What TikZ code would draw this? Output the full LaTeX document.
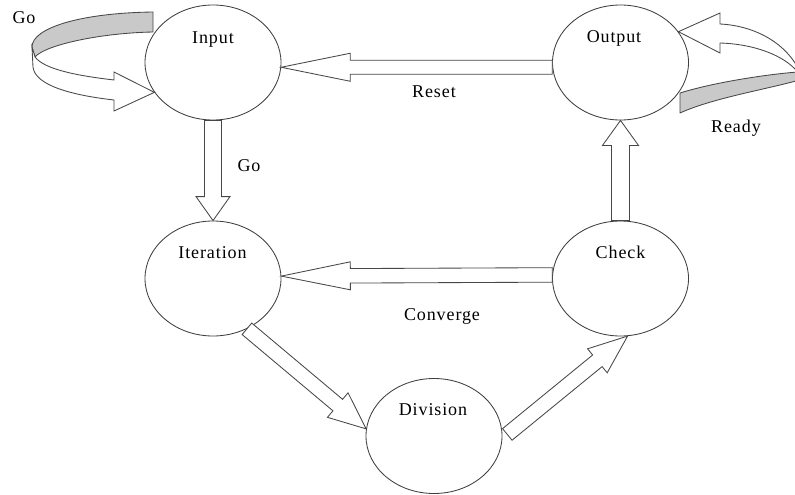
\documentclass[tikz,border=0pt]{standalone}
\usepackage{fontspec}
\setmainfont{Liberation Serif}[LetterSpace=5]
\usetikzlibrary{calc,shapes.geometric}

\tikzset{
  state/.style={ellipse, draw=black!75, line width=0.85pt, fill=white,
    minimum width=136pt, minimum height=115pt, inner sep=0pt},
  lbl/.style={anchor=base, font=\fontsize{18}{20}\selectfont, text=black, inner sep=0pt},
  hollow/.style={draw=black!72, line width=0.85pt, fill=white, line join=miter},
  ribbonback/.style={draw=black!72, line width=0.85pt, fill=black!21, line join=round},
  ribbonfront/.style={draw=black!72, line width=0.85pt, fill=white, line join=miter},
}

% hollow block arrow: from, to, half shaft width, half head width, head length
\newcommand\hollowarrow[5]{%
  \coordinate (ha-base) at ($(#2)!#5!(#1)$);
  \draw[hollow] ($(#1)!#3!90:(#2)$) -- ($(ha-base)!#3!90:(#2)$)
    -- ($(ha-base)!#4!90:(#2)$) -- (#2)
    -- ($(ha-base)!#4!-90:(#2)$) -- ($(ha-base)!#3!-90:(#2)$)
    -- ($(#1)!#3!-90:(#2)$) -- cycle;
}

\begin{document}
\begin{tikzpicture}[x=1pt,y=-1pt]
\path[use as bounding box, clip] (0,0) rectangle (795,495);
\fill[white] (0,0) rectangle (795,495);

% states
\node[state] (in)  at (213,62.5)   {};
\node[state] (out) at (620.5,62.5) {};
\node[state] (itr) at (213,278.5)  {};
\node[state] (chk) at (620.5,278.5) {};
\node[state] (div) at (434,436)    {};

% transitions
\hollowarrow{out.184}{in.-4}{7pt}{14pt}{69pt}
\hollowarrow{chk.177.5}{itr.2.5}{7.25pt}{14pt}{69pt}
\hollowarrow{in.south}{itr.north}{8.5pt}{17pt}{24pt}
\hollowarrow{chk.north}{out.south}{9pt}{18pt}{25pt}
\hollowarrow{itr.-56}{div.174}{7.5pt}{16pt}{37pt}
\coordinate (dv-start) at ($(div.3)+(5,2)$);
\hollowarrow{dv-start}{chk.-83}{7.5pt}{15.5pt}{39pt}

% self loop on Input
\draw[ribbonback] (153,12) .. controls (80,13) and (32,28) .. (32,47)
  -- (35,57) .. controls (45,45) and (100,33) .. (153,32) -- cycle;
\draw[ribbonfront] (32,47) -- (33,67) .. controls (35,85) and (70,95) .. (114,100)
  -- (114,111) -- (in.207) -- (114,72) -- (114,80)
  .. controls (80,76) and (45,70) .. (35,57) -- cycle;

% self loop on Output
\draw[ribbonback] (680,93) .. controls (715,82) and (770,74) .. (798,72)
  -- (806,78) .. controls (775,88) and (715,97) .. (680,113) -- cycle;
\draw[ribbonfront] (out.28) -- (720,13) -- (720,24)
  .. controls (756,25.7) and (787.3,44.3) .. (799.6,71.4) -- (797.8,72.2)
  .. controls (784.4,55.4) and (754.3,44.1) .. (720,43) -- (720,53) -- cycle;

% labels
\node[lbl] (t-in)    at (213,44)      {Input};
\node[lbl] (t-out)   at (614,43)      {Output};
\node[lbl] (t-itr)   at (212.5,258)   {Iteration};
\node[lbl] (t-chk)   at (620.5,258)   {Check};
\node[lbl] (t-div)   at (433,415)     {Division};
\node[lbl] (t-reset) at (434,97)      {Reset};
\node[lbl] (t-conv)  at (442,320)     {Converge};
\node[lbl] (t-go)    at (249,171.5)   {Go};
\node[lbl] (t-goin)  at (24,23.5)     {Go};
\node[lbl] (t-ready) at (736,132.5)   {Ready};
\end{tikzpicture}
\end{document}
